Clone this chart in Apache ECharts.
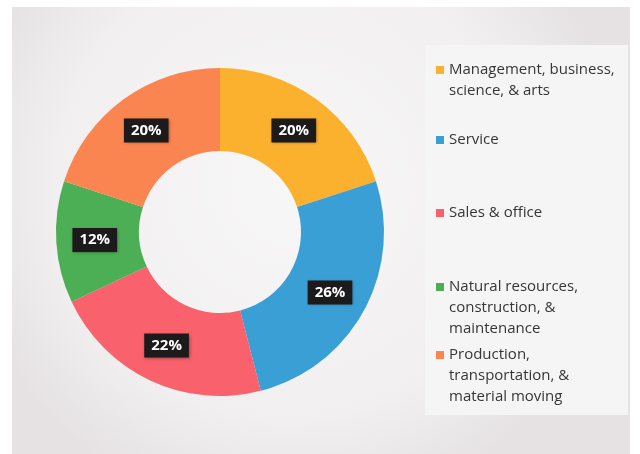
<!DOCTYPE html>
<html>
<head>
<meta charset="utf-8">
<script src="https://cdn.jsdelivr.net/npm/echarts@6/dist/echarts.min.js"></script>
<style>
  html, body { margin: 0; padding: 0; background: #fff; }
  #main { width: 640px; height: 454px; }
</style>
</head>
<body>
<div id="main"></div>
<script>
var categories = [
  'Management, business,\nscience, & arts',
  'Service',
  'Sales & office',
  'Natural resources,\nconstruction, &\nmaintenance',
  'Production,\ntransportation, &\nmaterial moving'
];
var shares = [20, 26, 22, 12, 20];
var colors = ['#fcb12e', '#3a9fd5', '#f9616c', '#4cae55', '#fb8551'];
// legend first-line centres
var legendLineY = [70, 140, 213, 287, 355];

var lineH = 21;
var legends = categories.map(function (name, i) {
  var n = name.split('\n').length;
  return {
    data: [name],
    left: 436,
    top: legendLineY[i] - (n - 1) * lineH - lineH / 2,
    orient: 'vertical',
    padding: 0,
    icon: 'rect',
    itemWidth: 8,
    itemHeight: 8,
    selectedMode: false,
    // blank lines above so the icon sits beside the first line
    formatter: function (s) {
      return new Array(n).join('\n') + s;
    },
    textStyle: {
      fontFamily: 'Open Sans',
      fontSize: 15,
      color: '#363636',
      lineHeight: lineH
    }
  };
});

var option = {
  animation: false,
  backgroundColor: '#ffffff',
  color: colors,
  graphic: [
    {
      type: 'rect',
      z: -10,
      shape: { x: 12, y: 7, width: 618, height: 447 },
      style: {
        fill: {
          type: 'radial', x: 0.45, y: 0.4, r: 0.75,
          colorStops: [
            { offset: 0, color: '#f8f7f7' },
            { offset: 0.7, color: '#f1eff0' },
            { offset: 1, color: '#e6e2e4' }
          ]
        }
      }
    },
    {
      type: 'rect',
      z: -9,
      shape: { x: 425, y: 45, width: 203, height: 370 },
      style: { fill: '#f6f5f5' }
    }
  ],
  legend: legends,
  series: [{
    type: 'pie',
    center: [220, 232],
    radius: [81, 164],
    startAngle: 90,
    clockwise: true,
    label: {
      show: true,
      position: 'inside',
      formatter: '{c}%',
      color: '#ffffff',
      fontFamily: 'Open Sans',
      fontWeight: 'bold',
      fontSize: 15,
      backgroundColor: '#1c1a1b',
      padding: [5, 7, 4, 7],
      shadowColor: 'rgba(0,0,0,0.35)',
      shadowBlur: 3,
      shadowOffsetX: 1,
      shadowOffsetY: 1
    },
    labelLine: { show: false },
    emphasis: { disabled: true },
    itemStyle: { borderWidth: 0 },
    data: categories.map(function (name, i) {
      return { name: name, value: shares[i] };
    })
  }]
};

var chart = echarts.init(document.getElementById('main'));
chart.setOption(option);
</script>
</body>
</html>
